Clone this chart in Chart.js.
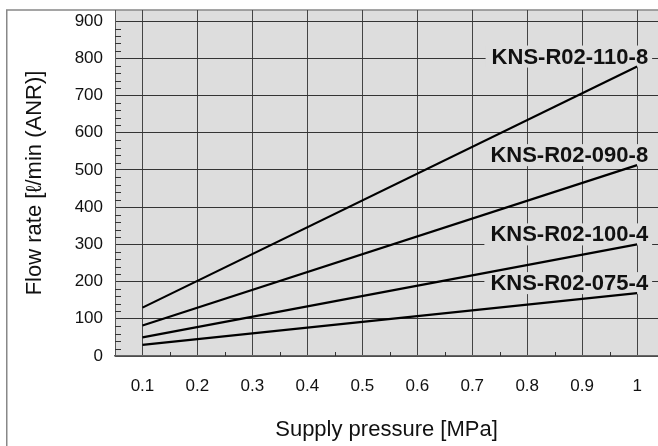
<!DOCTYPE html>
<html>
<head>
<meta charset="utf-8">
<script src="https://cdn.jsdelivr.net/npm/chart.js@4/dist/chart.umd.min.js"></script>
<style>
  html, body { margin: 0; padding: 0; background: #fff; }
  #wrap { width: 658px; height: 446px; }
</style>
</head>
<body>
<div id="wrap"><canvas id="flow" width="658" height="446"></canvas></div>
<script>
// supply pressure [MPa] at the two ends of each line
const pressures = [0.1, 1];
const seriesNames = ['KNS-R02-110-8', 'KNS-R02-090-8', 'KNS-R02-100-4', 'KNS-R02-075-4'];
const kns110_8 = [130, 778];
const kns090_8 = [82, 513];
const kns100_4 = [50, 300];
const kns075_4 = [30, 169];
const seriesValues = [kns110_8, kns090_8, kns100_4, kns075_4];

const xTicks = [0.1, 0.2, 0.3, 0.4, 0.5, 0.6, 0.7, 0.8, 0.9, 1];
const yTicks = [0, 100, 200, 300, 400, 500, 600, 700, 800, 900];

const FONT = '"Liberation Sans", Arial, Helvetica, sans-serif';
const PLOT_BG = '#dddddd';

// minor tick positions
const xMinor = xTicks.slice(0, -1).map(v => Math.round((v + 0.05) * 100) / 100);
const yMinor = [];
yTicks.slice(0, -1).forEach(v => { for (let k = 20; k < 100; k += 20) yMinor.push(v + k); });

const frameAndMinor = {
  id: 'frameAndMinor',
  beforeDraw(chart) {
    const { ctx, chartArea: a } = chart;
    ctx.save();
    ctx.fillStyle = PLOT_BG;
    ctx.fillRect(a.left, a.top, a.right - a.left, a.bottom - a.top);
    ctx.strokeStyle = '#888';
    ctx.lineWidth = 1.5;
    ctx.beginPath();
    ctx.moveTo(6.75, chart.height + 2);
    ctx.lineTo(6.75, a.top);
    ctx.lineTo(chart.width + 2, a.top);
    ctx.stroke();
    ctx.restore();
  },
  afterDraw(chart) {
    const { ctx, chartArea: a, scales } = chart;
    ctx.save();
    ctx.strokeStyle = '#333';
    ctx.lineWidth = 1;
    ctx.beginPath();
    yMinor.forEach(v => {
      const y = Math.round(scales.y.getPixelForValue(v)) + 0.5;
      ctx.moveTo(a.left, y);
      ctx.lineTo(a.left + 6, y);
    });
    xMinor.forEach(v => {
      const x = Math.round(scales.x.getPixelForValue(v)) + 0.5;
      ctx.moveTo(x, a.bottom);
      ctx.lineTo(x, a.bottom - 4);
    });
    ctx.stroke();
    ctx.restore();
  }
};

// series names written above the right end of each line
const endLabels = {
  id: 'endLabels',
  beforeDatasetsDraw(chart) {
    const { ctx } = chart;
    ctx.save();
    ctx.font = 'bold 22px ' + FONT;
    ctx.textAlign = 'right';
    ctx.textBaseline = 'middle';
    chart.data.datasets.forEach((ds, i) => {
      const pts = chart.getDatasetMeta(i).data;
      const end = pts[pts.length - 1];
      const x = end.x + 11;
      const y = end.y - 10;
      const w = ctx.measureText(ds.label).width;
      ctx.fillStyle = PLOT_BG;
      ctx.fillRect(x - w - 6, y - 11, w + 10, 22);
      ctx.fillStyle = '#111';
      ctx.fillText(ds.label, x, y + 1);
    });
    ctx.restore();
  }
};

new Chart(document.getElementById('flow'), {
  type: 'line',
  data: {
    datasets: seriesNames.map((name, i) => ({
      label: name,
      data: pressures.map((p, j) => ({ x: p, y: seriesValues[i][j] })),
      borderColor: '#000',
      borderWidth: 2.2,
      pointRadius: 0,
      fill: false,
      tension: 0
    }))
  },
  options: {
    responsive: false,
    animation: false,
    layout: { padding: { left: 0, right: 0, top: 10, bottom: 0 } },
    plugins: {
      legend: { display: false },
      tooltip: { enabled: false }
    },
    scales: {
      x: {
        type: 'linear',
        min: 0.05,
        max: 1.038,
        afterBuildTicks: s => { s.ticks = xTicks.map(v => ({ value: v })); },
        afterFit: s => { s.height = 90; s.paddingLeft = 0; s.paddingRight = 0; },
        grid: { color: '#444', lineWidth: 1, drawTicks: false },
        border: { color: '#666', width: 1.5 },
        ticks: {
          padding: 20,
          color: '#111',
          font: { family: FONT, size: 17 },
          maxRotation: 0,
          callback: v => String(v)
        },
        title: {
          display: true,
          text: 'Supply pressure [MPa]',
          color: '#111',
          font: { family: FONT, size: 22 },
          padding: { top: 0, bottom: 3 }
        }
      },
      y: {
        min: 0,
        max: 930,
        afterBuildTicks: s => { s.ticks = yTicks.map(v => ({ value: v })); },
        afterFit: s => { s.width = 115; s.paddingTop = 0; s.paddingBottom = 0; },
        grid: { color: '#333', lineWidth: 1, drawTicks: false },
        border: { color: '#555', width: 1 },
        ticks: {
          padding: 12,
          color: '#111',
          font: { family: FONT, size: 17 }
        },
        title: {
          display: true,
          text: 'Flow rate [ℓ/min (ANR)]',
          color: '#111',
          font: { family: FONT, size: 22 },
          padding: { top: 22, bottom: 0 }
        }
      }
    }
  },
  plugins: [frameAndMinor, endLabels]
});
</script>
</body>
</html>
